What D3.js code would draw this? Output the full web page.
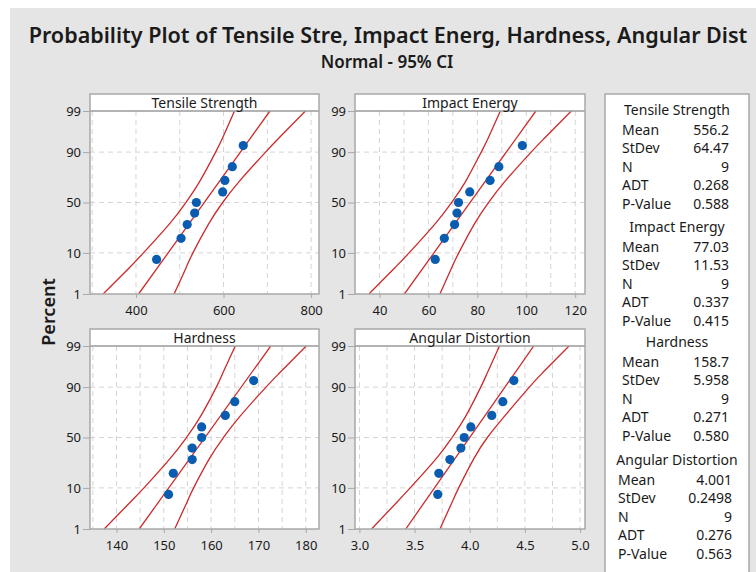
<!DOCTYPE html>
<html>
<head>
<meta charset="utf-8">
<script src="https://cdn.jsdelivr.net/npm/d3@7"></script>
<style>
  body { margin: 0; background: #fff; }
  svg text { font-family: "Noto Sans", "Open Sans", sans-serif; fill: #1a1a1a; }
</style>
</head>
<body>
<div id="chart"></div>
<script>
// values
const percentTicks = [1, 10, 50, 90, 99];
const rankPercents = [7.4, 18.1, 28.7, 39.4, 50, 60.6, 71.3, 81.9, 92.6];
const bandPercents = [1, 5, 10, 30, 50, 70, 90, 95, 99];
const fitPercents = [1, 99];

const names = ["Tensile Strength", "Impact Energy", "Hardness", "Angular Distortion"];

const tensile = [447, 503, 517, 534, 538, 598, 603, 620, 645];
const impact = [62.8, 66.5, 70.7, 71.7, 72.3, 76.9, 85.2, 88.8, 98.4];
const hardness = [151, 152, 156, 156, 158, 158, 163, 165, 169];
const angular = [3.71, 3.72, 3.82, 3.92, 3.95, 4.01, 4.20, 4.30, 4.40];

const tensileFit = [406, 706];
const tensileLow = [325, 386, 417, 478, 514, 545, 582, 598, 625];
const tensileHigh = [487, 515, 530, 567, 598, 635, 696, 727, 787];
const impactFit = [50.2, 103.9];
const impactLow = [35.7, 46.5, 52.1, 63.0, 69.5, 75.1, 81.6, 84.5, 89.4];
const impactHigh = [64.7, 69.6, 72.4, 79.0, 84.6, 91.1, 102.0, 107.6, 118.4];
const hardnessFit = [144.8, 172.6];
const hardnessLow = [137.4, 142.9, 145.8, 151.4, 154.8, 157.7, 161.1, 162.5, 165.1];
const hardnessHigh = [152.3, 154.9, 156.3, 159.7, 162.6, 166.0, 171.6, 174.5, 180.1];
const angularFit = [3.42, 4.58];
const angularLow = [3.11, 3.34, 3.46, 3.70, 3.84, 3.96, 4.10, 4.16, 4.27];
const angularHigh = [3.73, 3.84, 3.90, 4.04, 4.16, 4.31, 4.54, 4.66, 4.90];

const tensileTicks = [400, 600, 800];
const impactTicks = [40, 60, 80, 100, 120];
const hardnessTicks = [140, 150, 160, 170, 180];
const angularTicks = [3.0, 3.5, 4.0, 4.5, 5.0];

const means = ["556.2", "77.03", "158.7", "4.001"];
const stdevs = ["64.47", "11.53", "5.958", "0.2498"];
const counts = ["9", "9", "9", "9"];
const adts = ["0.268", "0.337", "0.271", "0.276"];
const pValues = ["0.588", "0.415", "0.580", "0.563"];
const statLabels = ["Mean", "StDev", "N", "ADT", "P-Value"];

// inverse normal cdf (Acklam) for the probability axis
function probit(p){
  const a=[-39.69683028665376,220.9460984245205,-275.9285104469687,138.3577518672690,-30.66479806614716,2.506628277459239];
  const b=[-54.47609879822406,161.5858368580409,-155.6989798598866,66.80131188771972,-13.28068155288572];
  const c=[-0.007784894002430293,-0.3223964580411365,-2.400758277161838,-2.549732539343734,4.374664141464968,2.938163982698783];
  const d=[0.007784695709041462,0.3224671290700398,2.445134137142996,3.754408661907416];
  const pl=0.02425;
  let q,r;
  if(p<pl){q=Math.sqrt(-2*Math.log(p));return (((((c[0]*q+c[1])*q+c[2])*q+c[3])*q+c[4])*q+c[5])/((((d[0]*q+d[1])*q+d[2])*q+d[3])*q+1);}
  if(p>1-pl){q=Math.sqrt(-2*Math.log(1-p));return -(((((c[0]*q+c[1])*q+c[2])*q+c[3])*q+c[4])*q+c[5])/((((d[0]*q+d[1])*q+d[2])*q+d[3])*q+1);}
  q=p-0.5;r=q*q;
  return (((((a[0]*r+a[1])*r+a[2])*r+a[3])*r+a[4])*r+a[5])*q/(((((b[0]*r+b[1])*r+b[2])*r+b[3])*r+b[4])*r+1);
}

const W = 756, H = 572;
const RED = '#cc2a2a', BLUE = '#0a5cb0', FRAME = '#a8a8a8', GRID = '#d4d4d4';

const svg = d3.select('#chart').append('svg').attr('width', W).attr('height', H);
svg.append('rect').attr('width', W).attr('height', H).attr('fill', '#fff');
svg.append('rect').attr('x', 10).attr('y', 8).attr('width', W - 10).attr('height', H - 8).attr('fill', '#e5e5e5');

function fitText(sel, target){
  const w = sel.node().getComputedTextLength();
  const fs = parseFloat(sel.attr('font-size'));
  sel.attr('font-size', fs * target / w);
}

const title = svg.append('text').attr('x', 388).attr('y', 43).attr('text-anchor', 'middle')
  .attr('font-size', 21).attr('font-weight', 600)
  .text('Probability Plot of Tensile Stre, Impact Energ, Hardness, Angular Dist');
fitText(title, 719);
svg.append('text').attr('x', 387).attr('y', 68).attr('text-anchor', 'middle')
  .attr('font-size', 17).attr('font-weight', 600).text('Normal - 95% CI');

svg.append('text').attr('transform', 'translate(55,312) rotate(-90)').attr('text-anchor', 'middle')
  .attr('font-size', 18).attr('font-weight', 600).text('Percent');

const panels = [
  {name: names[0], vals: tensile, fit: tensileFit, low: tensileLow, high: tensileHigh, ticks: tensileTicks,
   domain: [295, 818], grid: d3.range(300, 801, 100), x0: 90, x1: 319, top: 94, fmt: d3.format('d')},
  {name: names[1], vals: impact, fit: impactFit, low: impactLow, high: impactHigh, ticks: impactTicks,
   domain: [30, 124], grid: d3.range(40, 121, 10), x0: 355, x1: 585, top: 94, fmt: d3.format('d')},
  {name: names[2], vals: hardness, fit: hardnessFit, low: hardnessLow, high: hardnessHigh, ticks: hardnessTicks,
   domain: [134.4, 182.8], grid: d3.range(135, 181, 5), x0: 90, x1: 319, top: 329, fmt: d3.format('d')},
  {name: names[3], vals: angular, fit: angularFit, low: angularLow, high: angularHigh, ticks: angularTicks,
   domain: [2.96, 5.045], grid: d3.range(3, 5.01, 0.25), x0: 355, x1: 585, top: 329, fmt: d3.format('.1f')}
];

const headH = 17, plotH = 183;

panels.forEach((p, i) => {
  const g = svg.append('g');
  const yTop = p.top + headH, yBot = yTop + plotH;
  const x = d3.scaleLinear().domain(p.domain).range([p.x0, p.x1]);
  const y = d3.scaleLinear().domain([probit(0.01), probit(0.99)]).range([yBot, yTop]);
  const py = v => y(probit(v / 100));

  g.append('rect').attr('x', p.x0).attr('y', p.top).attr('width', p.x1 - p.x0).attr('height', headH + plotH)
    .attr('fill', '#fff');

  // grid
  g.selectAll('.vg').data(p.grid).join('line')
    .attr('x1', d => x(d)).attr('x2', d => x(d)).attr('y1', yTop).attr('y2', yBot)
    .attr('stroke', GRID).attr('stroke-dasharray', '5,4');
  g.selectAll('.hg').data([10, 50, 90]).join('line')
    .attr('x1', p.x0).attr('x2', p.x1).attr('y1', d => py(d)).attr('y2', d => py(d))
    .attr('stroke', GRID).attr('stroke-dasharray', '5,4');

  const clipId = 'clip' + i;
  svg.append('clipPath').attr('id', clipId).append('rect')
    .attr('x', p.x0).attr('y', yTop).attr('width', p.x1 - p.x0).attr('height', plotH);
  const pg = g.append('g').attr('clip-path', `url(#${clipId})`);

  const band = d3.line().x(d => x(d[0])).y(d => py(d[1])).curve(d3.curveNatural);
  [p.low, p.high].forEach(arr => {
    pg.append('path').datum(arr.map((v, k) => [v, bandPercents[k]]))
      .attr('d', band).attr('fill', 'none').attr('stroke', RED).attr('stroke-width', 1.3);
  });
  pg.append('path').datum(p.fit.map((v, k) => [v, fitPercents[k]]))
    .attr('d', d3.line().x(d => x(d[0])).y(d => py(d[1])))
    .attr('fill', 'none').attr('stroke', RED).attr('stroke-width', 1.3);

  pg.selectAll('circle').data(p.vals).join('circle')
    .attr('cx', d => x(d)).attr('cy', (d, k) => py(rankPercents[k])).attr('r', 4.6)
    .attr('fill', BLUE);

  // header
  g.append('line').attr('x1', p.x0).attr('x2', p.x1).attr('y1', yTop).attr('y2', yTop)
    .attr('stroke', '#9a9a9a').attr('stroke-width', 1.5);
  g.append('text').attr('x', (p.x0 + p.x1) / 2).attr('y', p.top + 13.5).attr('text-anchor', 'middle')
    .attr('font-size', 14).text(p.name);
  g.append('rect').attr('x', p.x0).attr('y', p.top).attr('width', p.x1 - p.x0).attr('height', headH + plotH)
    .attr('fill', 'none').attr('stroke', FRAME).attr('stroke-width', 1.5);

  // axes
  const xa = g.append('g').attr('transform', `translate(0,${yBot})`)
    .call(d3.axisBottom(x).tickValues(p.ticks).tickFormat(p.fmt).tickSize(4).tickSizeOuter(0));
  xa.select('.domain').remove();
  xa.selectAll('line').attr('stroke', FRAME);
  xa.selectAll('text').attr('font-size', 13).attr('font-family', null).attr('dy', '1.05em').attr('fill', '#1a1a1a');

  const ya = g.append('g').attr('transform', `translate(${p.x0},0)`)
    .call(d3.axisLeft(y).tickValues(percentTicks.map(v => probit(v / 100)))
      .tickFormat((d, k) => percentTicks[k]).tickSize(7).tickPadding(2).tickSizeOuter(0));
  ya.select('.domain').remove();
  ya.selectAll('line').attr('stroke', FRAME);
  ya.selectAll('text').attr('font-size', 13).attr('font-family', null).attr('fill', '#1a1a1a');
});

// legend table
const lg = svg.append('g');
lg.append('rect').attr('x', 605).attr('y', 94).attr('width', 144).attr('height', 500)
  .attr('fill', '#fff').attr('stroke', FRAME).attr('stroke-width', 1.5);
const blockTop = [115, 232, 347, 465];
const labelX = [622, 622, 622, 618], valueX = [729, 729, 729, 732];
names.forEach((n, i) => {
  const y0 = blockTop[i];
  lg.append('text').attr('x', 677).attr('y', y0).attr('text-anchor', 'middle').attr('font-size', 14).text(n);
  const vals = [means[i], stdevs[i], counts[i], adts[i], pValues[i]];
  statLabels.forEach((s, k) => {
    const yy = y0 + 19.5 + k * 18.6;
    lg.append('text').attr('x', labelX[i]).attr('y', yy).attr('font-size', 14).text(s);
    lg.append('text').attr('x', valueX[i]).attr('y', yy).attr('text-anchor', 'end').attr('font-size', 14).text(vals[k]);
  });
});
</script>
</body>
</html>
